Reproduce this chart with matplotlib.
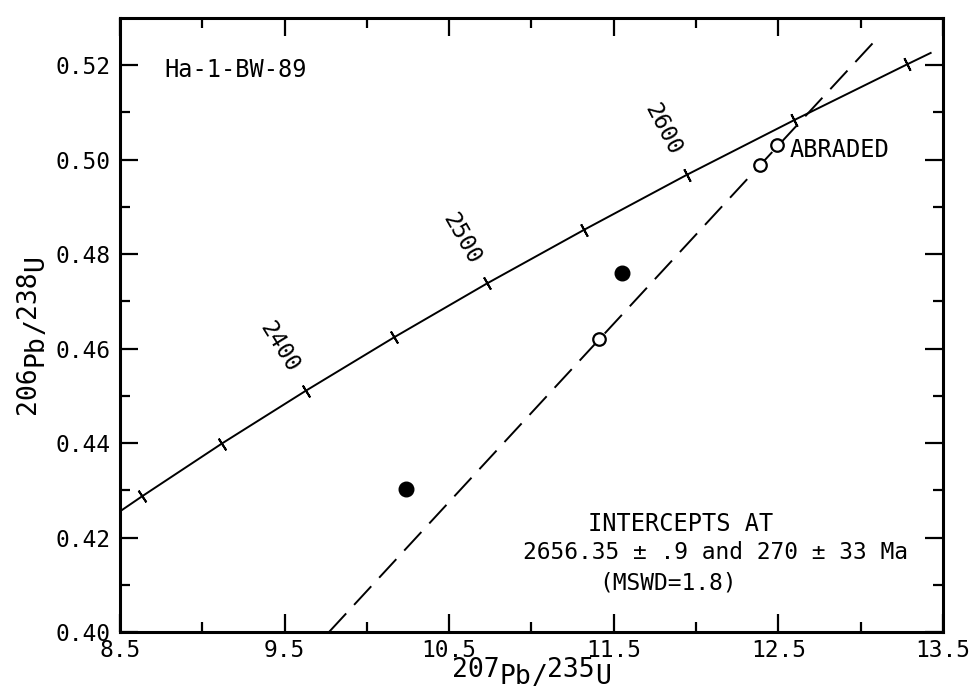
import numpy as np
import matplotlib
matplotlib.use("Agg")
import matplotlib.pyplot as plt
from matplotlib.transforms import offset_copy

plt.rcParams['font.family'] = ['DejaVu Sans Mono', 'DejaVu Sans']

# ---- data ----
# concordia curve (age in Ma, 207Pb/235U, 206Pb/238U)
conc_age = [2250, 2300, 2350, 2400, 2450, 2500, 2550, 2600, 2650, 2700, 2710]
conc_207_235 = [8.170, 8.633, 9.119, 9.630, 10.166, 10.730, 11.322, 11.944, 12.597, 13.283, 13.425]
conc_206_238 = [0.4177, 0.4287, 0.4399, 0.4511, 0.4624, 0.4738, 0.4852, 0.4968, 0.5084, 0.5202, 0.5226]
tick_ages = [2300, 2350, 2400, 2450, 2500, 2550, 2600, 2650, 2700]
label_ages = [2400, 2500, 2600]

# discordia line
discordia_x = [9.770, 13.090]
discordia_y = [0.4000, 0.5253]

# zircon fractions
filled_x = [10.24, 11.55]
filled_y = [0.4302, 0.4760]
open_x = [11.41, 12.39, 12.49]
open_y = [0.4621, 0.4989, 0.5032]

x_major = [8.5, 9.5, 10.5, 11.5, 12.5, 13.5]
x_minor = [9.0, 10.0, 11.0, 12.0, 13.0]
y_major = [0.40, 0.42, 0.44, 0.46, 0.48, 0.50, 0.52]
y_minor = [0.41, 0.43, 0.45, 0.47, 0.49, 0.51]

intercept_lines = ['INTERCEPTS AT', '2656.35 ± .9 and 270 ± 33 Ma', '(MSWD=1.8)']

fig = plt.figure(figsize=(9.77, 6.92), dpi=100)
ax = fig.add_axes([0.1228, 0.0867, 0.8424, 0.8873])
ax.set_xlim(8.5, 13.5)
ax.set_ylim(0.40, 0.53)

# concordia
ax.plot(conc_207_235, conc_206_238, color='black', lw=1.4)

fig.canvas.draw()
renderer = fig.canvas.get_renderer()
cx = dict(zip(conc_age, conc_207_235))
cy = dict(zip(conc_age, conc_206_238))
for age in tick_ages:
    a1 = age + 50 if age + 50 in cx else conc_age[-1]
    p0 = ax.transData.transform((cx[age - 50], cy[age - 50]))
    p1 = ax.transData.transform((cx[a1], cy[a1]))
    ang = np.degrees(np.arctan2(p1[1] - p0[1], p1[0] - p0[0]))
    ax.plot([cx[age]], [cy[age]], marker=(2, 2, ang), markersize=10,
            markeredgewidth=1.4, color='black', linestyle='none')
    if age in label_ages:
        r = np.radians(ang + 90)
        d = 37
        ax.annotate(str(age), xy=(cx[age], cy[age]),
                    xytext=(d * np.cos(r), d * np.sin(r)), textcoords='offset points',
                    rotation=ang - 90, ha='center', va='center',
                    rotation_mode='anchor', fontsize=16.5)

# discordia
ax.plot(discordia_x, discordia_y, color='black', lw=1.4, dashes=(13, 6))

# points
ax.plot(filled_x, filled_y, 'o', color='black', markersize=10.5, linestyle='none')
ax.plot(open_x, open_y, 'o', markerfacecolor='white', markeredgecolor='black',
        markersize=9, markeredgewidth=1.6, linestyle='none')

# ticks
ax.set_xticks(x_major)
ax.set_xticks(x_minor, minor=True)
ax.set_yticks(y_major)
ax.set_yticks(y_minor, minor=True)
ax.set_xticklabels([f"{v:.1f}" for v in x_major])
ax.set_yticklabels([f"{v:.2f}" for v in y_major])
ax.tick_params(which='both', direction='in', top=True, right=True, width=1.6,
               labelsize=16.5, colors='black')
ax.tick_params(which='major', length=13)
ax.tick_params(which='minor', length=7)
ax.tick_params(axis='x', pad=5)
ax.tick_params(axis='y', pad=7)
for s in ax.spines.values():
    s.set_linewidth(2.2)


def piece_label(pieces, anchor, vertical, fs, drop):
    """Draw a label made of pieces; pieces with flag True are lowered by `drop` px."""
    widths = []
    for s, low in pieces:
        t = fig.text(0, 0, s, fontsize=fs)
        widths.append(t.get_window_extent(renderer).width)
        t.remove()
    total = sum(widths)
    pos = -total / 2
    for (s, low), w in zip(pieces, widths):
        d = -drop if low else 0
        if vertical:
            tr = offset_copy(ax.transAxes, fig, x=-d, y=pos, units='dots')
            ax.text(anchor[0], anchor[1], s, transform=tr, fontsize=fs,
                    rotation=90, rotation_mode='anchor', ha='left', va='baseline')
        else:
            tr = offset_copy(ax.transAxes, fig, x=pos, y=d, units='dots')
            ax.text(anchor[0], anchor[1], s, transform=tr, fontsize=fs,
                    ha='left', va='baseline')
        pos += w


bb = ax.get_window_extent(renderer)
# x label: numbers baseline ~45 px below the axes
piece_label([('207', False), ('Pb', True), ('/', True), ('235', False), ('U', True)],
            (0.5, -45 / bb.height), False, 19, 7)
# y label: numbers baseline ~85 px left of the axes
piece_label([('206', False), ('Pb', True), ('/', True), ('238', False), ('U', True)],
            (-85 / bb.width, 0.485), True, 19, 8)

ax.text(8.77, 0.519, 'Ha-1-BW-89', ha='left', va='center', fontsize=17)
ax.text(12.57, 0.5020, 'ABRADED', ha='left', va='center', fontsize=17)
ax.text(11.905, 0.4229, intercept_lines[0], ha='center', va='center', fontsize=17)
ax.text(12.12, 0.4168, intercept_lines[1], ha='center', va='center', fontsize=16.5)
ax.text(11.83, 0.4104, intercept_lines[2], ha='center', va='center', fontsize=16.5)

fig.savefig('out.png', dpi=100)
